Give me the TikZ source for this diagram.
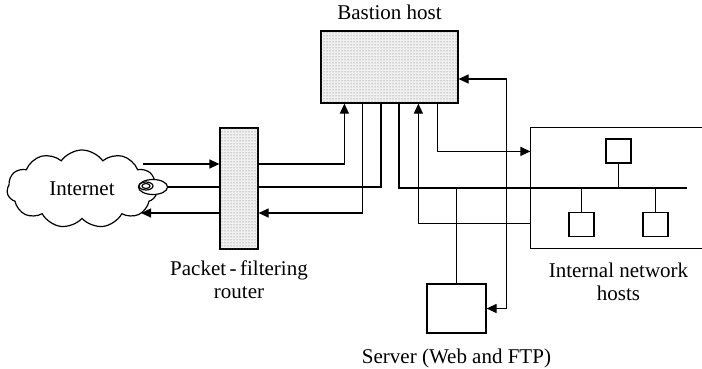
\documentclass[tikz,border=0pt]{standalone}
\usepackage{fontspec}
\setmainfont{Liberation Serif}
\usetikzlibrary{arrows.meta,positioning,calc,shapes.symbols,shapes.geometric,patterns}

\tikzset{
    stipple/.style={draw, fill=black!6, postaction={pattern=dots, pattern color=black!60}, inner sep=0pt},
    hostbox/.style={draw, fill=white, minimum width=25pt, minimum height=24pt, inner sep=0pt},
    lbl/.style={inner sep=0pt, align=center},
    bus/.style={line width=2pt},
    tip/.style={-{Triangle[length=10pt,width=9pt]}},
    tipboth/.style={{Triangle[length=10pt,width=9pt]}-{Triangle[length=10pt,width=9pt]}}
}

\begin{document}
\begin{tikzpicture}[x=1pt, y=-1pt, line width=1.2pt, font=\fontsize{21pt}{23pt}\selectfont]
    \useasboundingbox (0,0) rectangle (702,369);

    % Bastion host and router
    \node[stipple, minimum width=137pt, minimum height=72pt] (bastion) at (389.5,67) {};
    \node[lbl, above=10pt of bastion] (bastionlbl) {Bastion host};
    \node[stipple, minimum width=38pt, minimum height=121pt] (router) at (239,188.5) {};
    \node[lbl, below=11pt of router] (routerlbl) {Packet\,-\,filtering\\router};

    % Internet
    \node[cloud, draw, cloud puffs=11, cloud puff arc=110, aspect=2, minimum width=150pt, minimum height=78pt, inner sep=0pt] (inet) at (82,189) {Internet};
    \node[ellipse, draw, fill=white, minimum width=29pt, minimum height=15pt, inner sep=0pt] (plug) at (153,187) {};
    \node[ellipse, draw, minimum width=14pt, minimum height=8pt, inner sep=0pt] (plugring) at (146,186) {};
    \node[ellipse, draw, minimum width=8pt, minimum height=5pt, inner sep=0pt] (plugcore) at (146,186) {};

    % Server
    \node[draw, minimum width=59pt, minimum height=49pt, inner sep=0pt] (server) at (456.5,308.5) {};
    \node[lbl, below=15pt of server] (serverlbl) {Server (Web and FTP)};

    % Internal network
    \node[minimum width=171pt, minimum height=120pt, inner sep=0pt] (lan) at (616.5,188) {};
    \draw (lan.north east) -- (lan.north west) -- (lan.south west) -- (lan.south east);
    \node[lbl, below=14pt of lan, xshift=2pt] (lanlbl) {Internal network\\hosts};
    \node[hostbox] (hosta) at (618.5,151) {};
    \node[hostbox] (hostb) at (581.5,224.5) {};
    \node[hostbox] (hostc) at (655.5,224.5) {};

    \coordinate (busend) at (687,188);
    \draw[bus] ($(bastion.south west)+(79,0)$) |- (busend);
    \draw (hosta.south) -- (hosta.south |- busend);
    \draw (hostb.north) -- (hostb.north |- busend);
    \draw (hostc.north) -- (hostc.north |- busend);
    \draw (server.north) -- (server.north |- busend);

    % Internet <-> router <-> bastion
    \coordinate (cin) at (143,164);
    \coordinate (cout) at (141,213);
    \draw[tip] (cin) -- (cin -| router.west);
    \draw[tip] (cin -| router.east) -| ($(bastion.south west)+(24,0)$);
    \draw[bus] (plug.east) -- (plug.east -| router.west);
    \draw[bus] (plug.east -| router.east) -| ($(bastion.south west)+(61,0)$);
    \draw[tip] ($(bastion.south west)+(42,0)$) |- (cout -| router.east);
    \draw[tip] (cout -| router.west) -- (cout);

    % bastion <-> internal hosts and server
    \draw[tip] ($(bastion.south west)+(117,0)$) |- ($(lan.north west)+(0,24)$);
    \draw[tip] ($(lan.north west)+(0,96)$) -| ($(bastion.south west)+(98,0)$);
    \draw[tipboth] ($(bastion.east)+(0,12)$) -- ++(48,0) |- (server.east);
\end{tikzpicture}
\end{document}
